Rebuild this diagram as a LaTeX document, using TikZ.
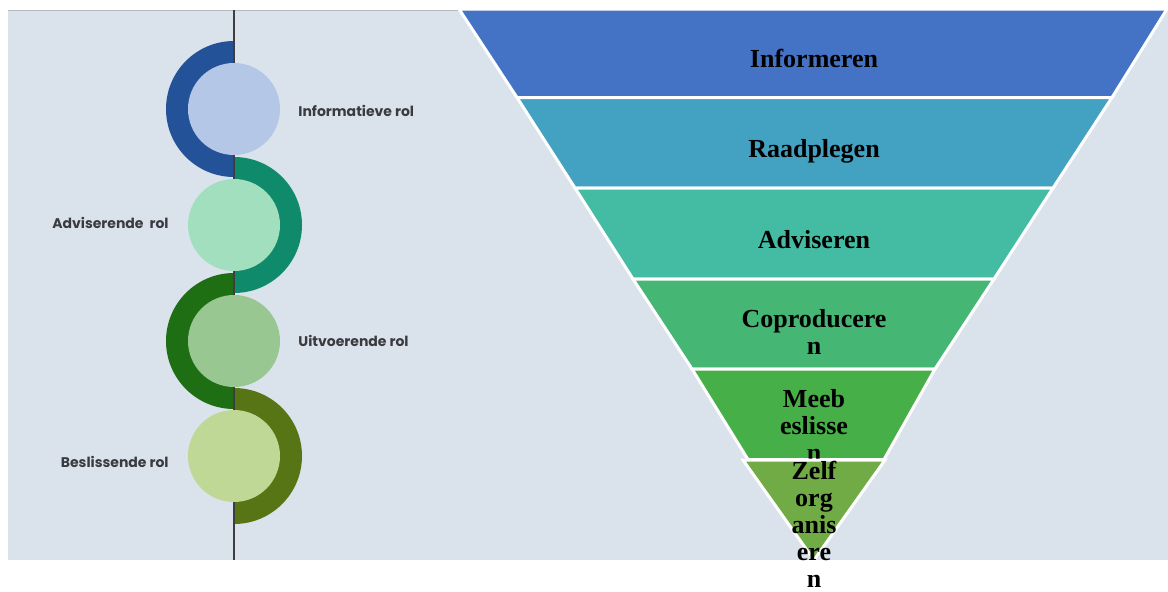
\documentclass[tikz,border=0pt]{standalone}
\usepackage{fontspec}
\setmainfont{Liberation Serif}
\newfontfamily\rolefont{Poppins}
\usepackage{tikz}
\usetikzlibrary{positioning}
\definecolor{PanelGrey}{HTML}{DAE3EC}
\definecolor{EdgeGrey}{HTML}{B4B9C0}
\definecolor{AxisGrey}{HTML}{3E3E42}
\definecolor{RoleText}{HTML}{3A3A3F}
\definecolor{RingBlue}{HTML}{245298}
\definecolor{DiscBlue}{HTML}{B4C7E7}
\definecolor{RingTeal}{HTML}{0F8A6A}
\definecolor{DiscMint}{HTML}{A2DFBE}
\definecolor{RingGreen}{HTML}{1E6E14}
\definecolor{DiscGreen}{HTML}{98C791}
\definecolor{RingOlive}{HTML}{587516}
\definecolor{DiscOlive}{HTML}{C0D895}
\definecolor{BandA}{HTML}{4472C4}
\definecolor{BandB}{HTML}{43A1C1}
\definecolor{BandC}{HTML}{44BBA3}
\definecolor{BandD}{HTML}{45B674}
\definecolor{BandE}{HTML}{47AF47}
\definecolor{BandF}{HTML}{70AB46}

\begin{document}
\begin{tikzpicture}[x=1pt,y=-1pt,
  disc/.style={circle, minimum size=92pt, inner sep=0pt},
  rolelabel/.style={inner sep=0pt, text=RoleText, font=\rolefont\bfseries\fontsize{14}{16}\selectfont},
  band/.style={draw=white, line width=3pt, line join=miter},
  bandlabel/.style={inner sep=0pt, align=center, font=\bfseries\fontsize{26}{27}\selectfont}]
\useasboundingbox (0,0) rectangle (1168,592);
\fill[PanelGrey] (8,10) rectangle (1168,560);
\draw[EdgeGrey, line width=1pt] (8,10.5) -- (459,10.5);
%
\coordinate (c1) at (234,109);
\coordinate (c2) at (234,225);
\coordinate (c3) at (234,341);
\coordinate (c4) at (234,456);
\fill[RingBlue] (c1) -- ++(0,-68) arc[start angle=270, end angle=90, radius=68] -- cycle;
\fill[RingTeal] (c2) -- ++(0,-68) arc[start angle=-90, end angle=90, radius=68] -- cycle;
\fill[RingGreen] (c3) -- ++(0,-68) arc[start angle=270, end angle=90, radius=68] -- cycle;
\fill[RingOlive] (c4) -- ++(0,-68) arc[start angle=-90, end angle=90, radius=68] -- cycle;
%
\coordinate (axistop) at (234,10);
\coordinate (axisbottom) at (234,560);
\draw[AxisGrey, line width=1.5pt] (axistop) -- (axisbottom);
%
\node[disc, fill=DiscBlue] (informatief) at (c1) {};
\node[disc, fill=DiscMint] (adviserend) at (c2) {};
\node[disc, fill=DiscGreen] (uitvoerend) at (c3) {};
\node[disc, fill=DiscOlive] (beslissend) at (c4) {};
\node[rolelabel, right=18pt of informatief, yshift=-2pt] (informatieflabel) {Informatieve rol};
\node[rolelabel, left=19pt of adviserend, yshift=2pt] (adviserendlabel) {Adviserende~ rol};
\node[rolelabel, right=18pt of uitvoerend] (uitvoerendlabel) {Uitvoerende rol};
\node[rolelabel, left=19pt of beslissend, yshift=-6pt] (beslissendlabel) {Beslissende rol};
%
\filldraw[band, fill=BandA] (459,9) -- (1167,9) -- (1112,97.5) -- (517,97.5) -- cycle;
\node[bandlabel, anchor=base] (informeren) at (814,67) {Informeren};
\filldraw[band, fill=BandB] (517,97.5) -- (1112,97.5) -- (1053,188) -- (575,188) -- cycle;
\node[bandlabel, anchor=base] (raadplegen) at (814,157) {Raadplegen};
\filldraw[band, fill=BandC] (575,188) -- (1053,188) -- (994,279) -- (633,279) -- cycle;
\node[bandlabel, anchor=base] (adviseren) at (814,248) {Adviseren};
\filldraw[band, fill=BandD] (633,279) -- (994,279) -- (935,369) -- (692,369) -- cycle;
\node[bandlabel, anchor=north] (coproduceren) at (814,309.5) {Coproducere\\n};
\filldraw[band, fill=BandE] (692,369) -- (935,369) -- (884,459.5) -- (748,459.5) -- cycle;
\node[bandlabel, anchor=north] (meebeslissen) at (814,389.5) {Meeb\\eslisse\\n};
\filldraw[band, fill=BandF] (743,460) -- (885,460) -- (814,560) -- cycle;
\node[bandlabel, anchor=north] (zelforganiseren) at (814,461) {Zelf\\org\\anis\\ere\\n};
\end{tikzpicture}
\end{document}
